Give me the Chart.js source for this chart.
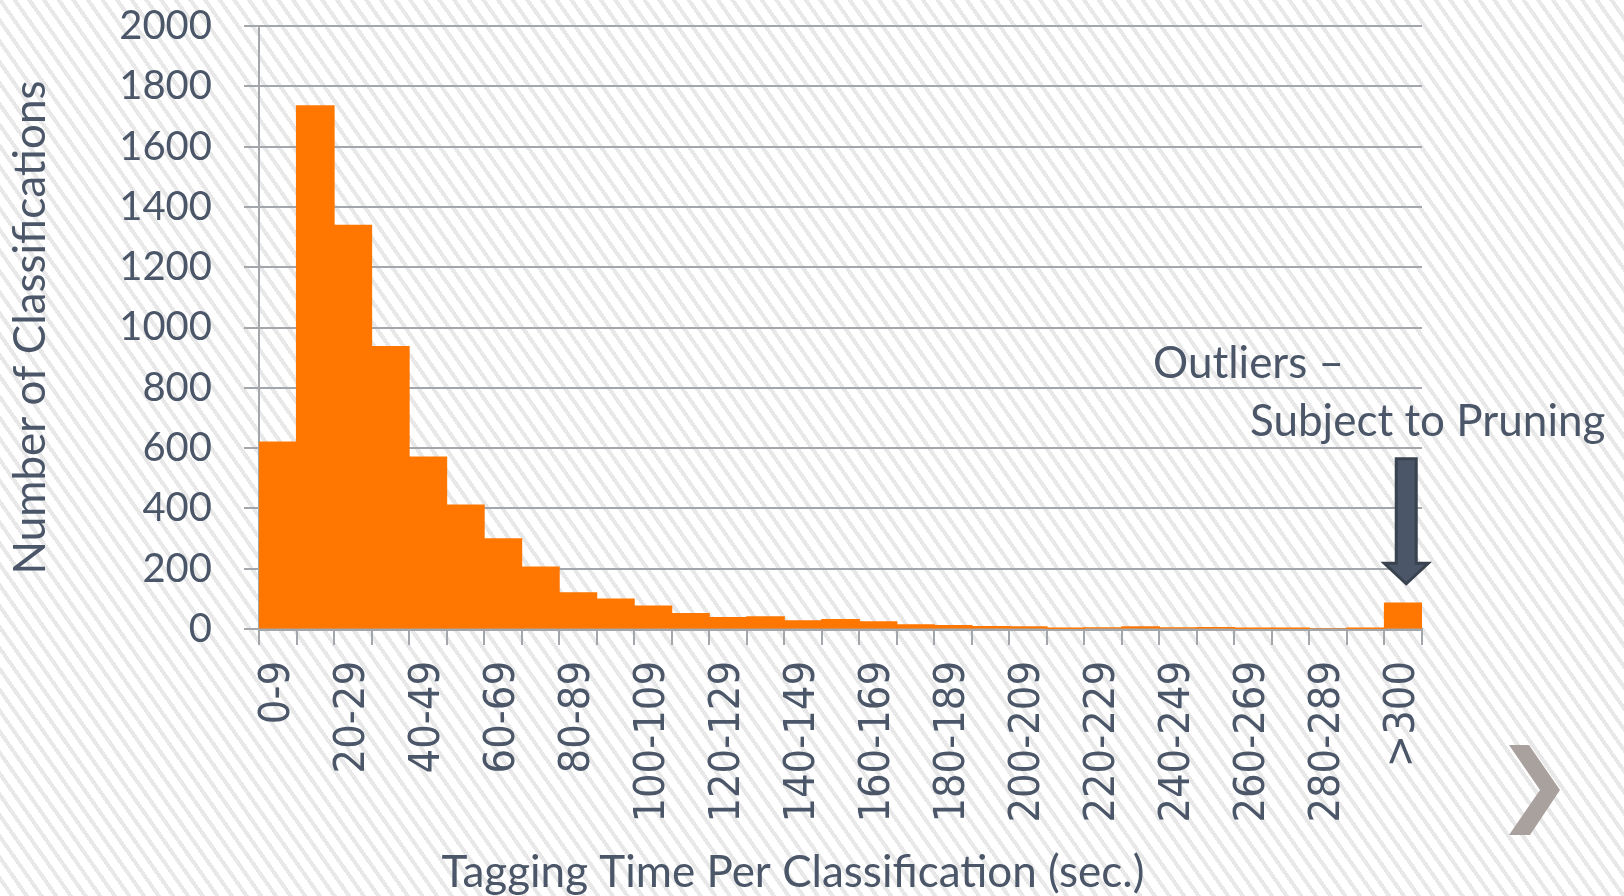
<!DOCTYPE html>
<html>
<head>
<meta charset="utf-8">
<title>Tagging Time Per Classification</title>
<style>
    html, body {
        margin: 0;
        padding: 0;
    }
    body {
        width: 1624px;
        height: 896px;
        overflow: hidden;
        background-color: #ffffff;
        background-image: repeating-linear-gradient(55deg, #ffffff 0px, #ffffff 8px, #e8e8e8 8px, #e8e8e8 12px);
    }
    #box {
        position: relative;
        width: 1624px;
        height: 896px;
    }
</style>
<script src="https://cdn.jsdelivr.net/npm/chart.js"></script>
<script>
    // histogram bins (seconds) and counts
    const categories = ['0-9', '10-19', '20-29', '30-39', '40-49', '50-59', '60-69', '70-79', '80-89', '90-99',
        '100-109', '110-119', '120-129', '130-139', '140-149', '150-159', '160-169', '170-179', '180-189', '190-199',
        '200-209', '210-219', '220-229', '230-239', '240-249', '250-259', '260-269', '270-279', '280-289', '290-299', '>300'];
    const counts = [620, 1735, 1339, 937, 570, 411, 299, 205, 120, 99,
        76, 51, 38, 40, 27, 31, 24, 14, 11, 8,
        7, 2, 4, 7, 4, 5, 1, 2, 0, 2, 86];
    const yTicks = [0, 200, 400, 600, 800, 1000, 1200, 1400, 1600, 1800, 2000];
    const xTitle = 'Tagging Time Per Classification (sec.)';
    const yTitle = 'Number of Classifications';
    const noteLines = ['Outliers \u2013', 'Subject to Pruning'];

    const textColor = '#4b5768';
    const gridColor = '#a3a7ab';

    // extra drawing: x title, outlier note, arrow, chevron
    const extras = {
        id: 'extras',
        afterDraw(chart) {
            const ctx = chart.ctx;
            const x = chart.scales.x;
            const y = chart.scales.y;
            ctx.save();
            ctx.fillStyle = textColor;
            ctx.textBaseline = 'middle';
            ctx.font = '44px Lato';
            ctx.textAlign = 'center';
            ctx.fillText(xTitle, 793, 873);

            ctx.textAlign = 'left';
            ctx.font = '44px Lato';
            ctx.fillText(noteLines[0], 1153, 364);
            ctx.fillText(noteLines[1], 1250, 422);

            // arrow pointing at the last bar
            const cx = x.getPixelForValue(categories.length - 1) + 3;
            const top = y.getPixelForValue(565);
            const neck = y.getPixelForValue(218);
            const tip = y.getPixelForValue(150);
            ctx.beginPath();
            ctx.moveTo(cx - 10, top);
            ctx.lineTo(cx + 10, top);
            ctx.lineTo(cx + 10, neck);
            ctx.lineTo(cx + 22, neck);
            ctx.lineTo(cx, tip);
            ctx.lineTo(cx - 22, neck);
            ctx.lineTo(cx - 10, neck);
            ctx.closePath();
            ctx.fillStyle = '#4b5768';
            ctx.fill();
            ctx.lineWidth = 3;
            ctx.lineJoin = 'miter';
            ctx.strokeStyle = '#39424f';
            ctx.stroke();

            // next-slide chevron
            ctx.beginPath();
            ctx.moveTo(1509, 745);
            ctx.lineTo(1529, 745);
            ctx.lineTo(1560, 790);
            ctx.lineTo(1530, 835);
            ctx.lineTo(1509, 835);
            ctx.lineTo(1540, 790);
            ctx.closePath();
            ctx.fillStyle = '#a9a19d';
            ctx.fill();
            ctx.restore();
        }
    };

    function createChart() {
        const ctx = document.getElementById('charts').getContext('2d');
        new Chart(ctx, {
            type: 'bar',
            data: {
                labels: categories,
                datasets: [{
                    label: 'Classifications',
                    data: counts,
                    backgroundColor: '#ff7600',
                    borderWidth: 0,
                    inflateAmount: 0.6,
                    barPercentage: 1,
                    categoryPercentage: 1
                }]
            },
            options: {
                responsive: false,
                animation: false,
                layout: {
                    padding: { top: 26, right: 202, left: 0, bottom: 0 }
                },
                plugins: {
                    legend: { display: false },
                    tooltip: { enabled: false }
                },
                scales: {
                    x: {
                        afterFit(scale) {
                            scale.height = 267;
                            scale.paddingLeft = 0;
                            scale.paddingRight = 0;
                        },
                        border: { display: true, color: gridColor, width: 3 },
                        grid: {
                            display: true,
                            drawOnChartArea: false,
                            drawTicks: true,
                            tickLength: 16,
                            color: gridColor,
                            lineWidth: 2
                        },
                        ticks: {
                            autoSkip: false,
                            maxRotation: 90,
                            minRotation: 90,
                            padding: 16,
                            color: textColor,
                            font: { family: "'DejaVu Sans Condensed', 'DejaVu Sans'", size: 43 },
                            callback: function(value, index) {
                                return index % 2 === 0 ? categories[index] : '';
                            }
                        }
                    },
                    y: {
                        min: 0,
                        max: 2000,
                        afterFit(scale) {
                            scale.width = 259;
                            scale.paddingTop = 0;
                            scale.paddingBottom = 0;
                        },
                        afterBuildTicks(scale) { scale.ticks = yTicks.map(v => ({ value: v })); },
                        border: { display: true, color: gridColor, width: 2 },
                        grid: {
                            color: gridColor,
                            lineWidth: 2,
                            tickLength: 15
                        },
                        ticks: {
                            padding: 32,
                            color: textColor,
                            font: { family: 'Lato', size: 40 },
                            callback: function(value) { return String(value); }
                        },
                        title: {
                            display: true,
                            text: yTitle,
                            color: textColor,
                            font: { family: 'Lato', size: 44 },
                            padding: { top: 4, bottom: 0 }
                        }
                    }
                }
            },
            plugins: [extras]
        });
    }

    document.addEventListener('DOMContentLoaded', createChart);
</script>
</head>
<body>
    <div id="box">
        <canvas id="charts" width="1624" height="896"></canvas>
    </div>
</body>
</html>
